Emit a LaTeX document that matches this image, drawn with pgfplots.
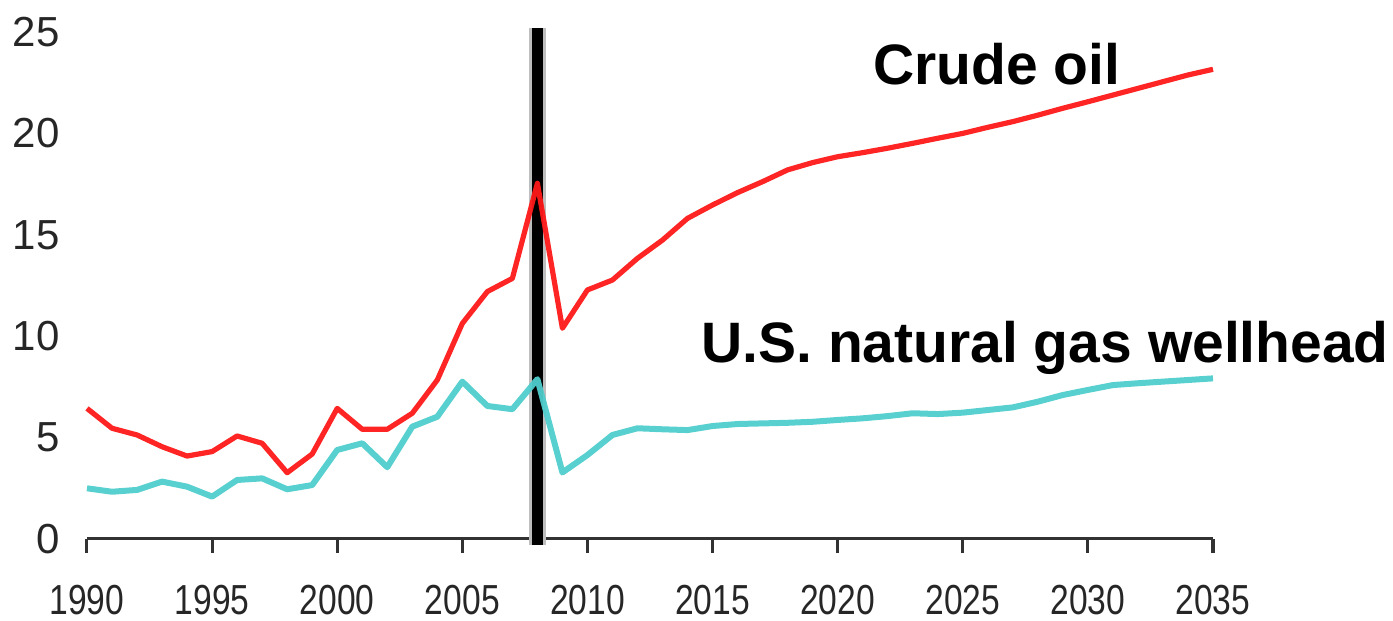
\documentclass[border=0pt]{standalone}
\usepackage{fontspec}
\setmainfont{Liberation Sans}
\newfontfamily\condfont[FakeStretch=0.8]{Liberation Sans}
\usepackage{pgfplots}
\pgfplotsset{compat=1.18}
\usepackage{pgfplotstable}
\definecolor{oilred}{RGB}{255,25,25}
\definecolor{gascyan}{RGB}{80,205,205}
\definecolor{axisgrey}{RGB}{50,50,50}
\definecolor{bargrey}{RGB}{190,190,190}

\pgfplotstableread{
year oil gas
1990 6.44 2.50
1991 5.46 2.33
1992 5.13 2.42
1993 4.55 2.83
1994 4.09 2.58
1995 4.31 2.09
1996 5.08 2.91
1997 4.72 2.99
1998 3.27 2.45
1999 4.19 2.66
2000 6.44 4.39
2001 5.41 4.72
2002 5.41 3.54
2003 6.20 5.54
2004 7.84 6.03
2005 10.63 7.76
2006 12.20 6.56
2007 12.85 6.40
2008 17.54 7.88
2009 10.39 3.28
2010 12.28 4.14
2011 12.77 5.13
2012 13.84 5.46
2013 14.74 5.41
2014 15.81 5.37
2015 16.47 5.57
2016 17.08 5.67
2017 17.62 5.70
2018 18.20 5.73
2019 18.56 5.78
2020 18.85 5.87
2021 19.05 5.95
2022 19.27 6.06
2023 19.51 6.20
2024 19.76 6.16
2025 20.00 6.23
2026 20.30 6.36
2027 20.58 6.49
2028 20.90 6.77
2029 21.24 7.10
2030 21.56 7.35
2031 21.89 7.59
2032 22.22 7.68
2033 22.55 7.76
2034 22.88 7.84
2035 23.16 7.92
}\datatable

\begin{document}
\begin{tikzpicture}
\useasboundingbox (-43.5pt,-41pt) rectangle (653pt,269.5pt);
\begin{axis}[
  at={(0pt,0pt)}, anchor=south west,
  scale only axis,
  width=563pt, height=253.5pt,
  xmin=1990, xmax=2035, ymin=0, ymax=25,
  clip=false,
  axis lines=left,
  axis line style={-},
  y axis line style={draw=none},
  x axis line style={draw=axisgrey, line width=1.5pt},
  xtick={1990,1995,...,2035},
  xticklabels={1990,1995,2000,2005,2010,2015,2020,2025,2030,2035},
  ytick={0,5,...,25},
  tick align=outside,
  major tick length=7pt,
  xtick style={draw=axisgrey, line width=1.5pt},
  ytick style={draw=none},
  /pgf/number format/assume math mode=true,
  /pgf/number format/1000 sep={},
  tick label style={font=\fontsize{21}{21}\selectfont, text=black!85, inner sep=0pt},
  xticklabel style={anchor=north, yshift=-16pt, font=\condfont\fontsize{21}{21}\selectfont},
  yticklabel style={anchor=east, xshift=-6.5pt},
]
\addplot[bargrey, line width=8.5pt, line cap=butt] coordinates {(2008,-0.3) (2008,25.2)};
\addplot[black, line width=5.5pt, line cap=butt] coordinates {(2008,-0.3) (2008,25.2)};
\addplot[oilred, line width=2.6pt, line join=round, opacity=0.95] table[x=year, y=oil] {\datatable};
\addplot[gascyan, line width=3pt, line join=round, opacity=0.95] table[x=year, y=gas] {\datatable};
\node[anchor=base west, inner sep=0pt, font=\fontsize{28.5}{28.5}\selectfont\bfseries] at (axis cs:2021.41,22.39) {Crude oil};
\node[anchor=base west, inner sep=0pt, font=\fontsize{28.5}{28.5}\selectfont\bfseries] at (axis cs:2014.54,8.68) {U.S. natural gas wellhead};
\end{axis}
\end{tikzpicture}
\end{document}
